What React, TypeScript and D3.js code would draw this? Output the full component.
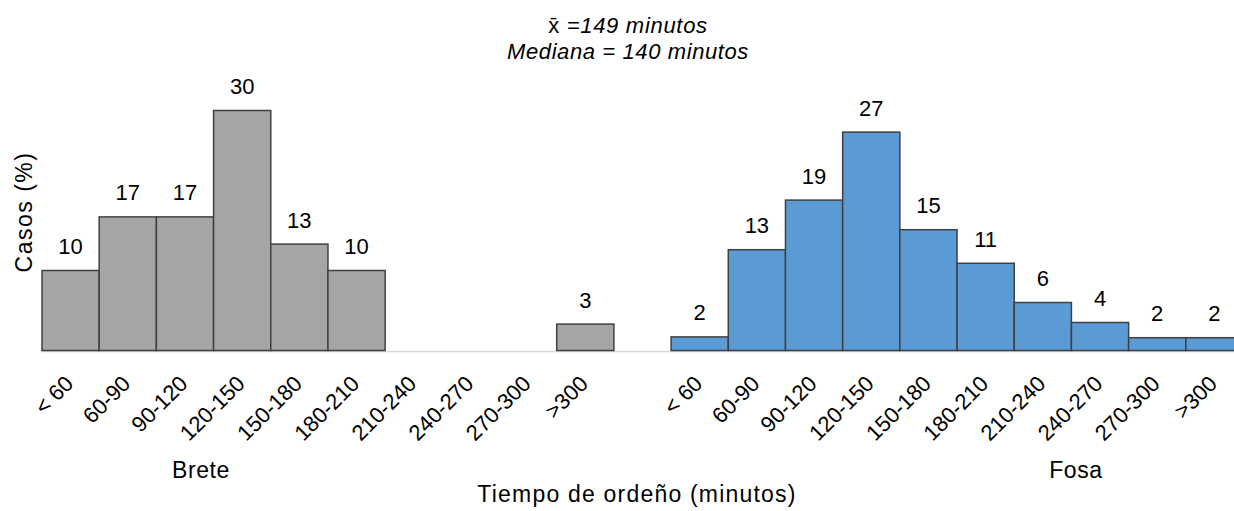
import * as d3 from "d3";

const W = 1234;
const H = 511;

// bins shared by both groups
const bins = ["< 60", "60-90", "90-120", "120-150", "150-180", "180-210", "210-240", "240-270", "270-300", ">300"];
const brete = [10, 16.7, 16.7, 30, 13.3, 10, 0, 0, 0, 3.3];
const fosa = [1.7, 12.6, 18.8, 27.3, 15.1, 10.9, 6.0, 3.5, 1.6, 1.6];
const groups = ["Brete", "Fosa"];
const groupLabelX = [201, 1076];
const titleMean = "=149 minutos";
const titleMedian = "Mediana = 140 minutos";
const yTitle = "Casos (%)";
const xTitle = "Tiempo de ordeño (minutos)";

const font = "'Liberation Sans', Arial, sans-serif";

const slots = [...bins.map((b) => "B|" + b), "gap", ...bins.map((b) => "F|" + b)];
const x = d3.scaleBand().domain(slots).range([42, 1243]).padding(0);
const y = d3.scaleLinear().domain([0, 30]).range([350.5, 110.5]);

const rows = [
  ...bins.map((b, i) => ({ key: "B|" + b, label: b, value: brete[i], fill: "#A5A5A5" })),
  ...bins.map((b, i) => ({ key: "F|" + b, label: b, value: fosa[i], fill: "#5B9BD5" })),
];

export default function App() {
  const bw = x.bandwidth();
  return (
    <svg
      width={W}
      height={H}
      style={{ position: "absolute", left: 0, top: 0, display: "block", background: "#fff" }}
      fontFamily={font}
    >
      {/* title */}
      <text x={628} y={33} textAnchor="middle" fontSize={22} letterSpacing={0.7}>
        <tspan>x̄ </tspan>
        <tspan fontStyle="italic">{titleMean}</tspan>
      </text>
      <text x={628} y={58.5} textAnchor="middle" fontSize={22} fontStyle="italic" letterSpacing={0.6}>
        {titleMedian}
      </text>

      {/* baseline */}
      <line x1={42} x2={1234} y1={y(0) + 1} y2={y(0) + 1} stroke="#D9D9D9" strokeWidth={1.5} />

      {/* bars */}
      {rows
        .filter((r) => r.value > 0)
        .map((r) => (
          <rect
            key={r.key}
            x={x(r.key)}
            y={y(r.value)}
            width={bw}
            height={y(0) - y(r.value)}
            fill={r.fill}
            stroke="#404040"
            strokeWidth={1.5}
          />
        ))}

      {/* value labels */}
      {rows
        .filter((r) => r.value > 0)
        .map((r) => (
          <text
            key={"v" + r.key}
            x={x(r.key)! + bw / 2}
            y={y(r.value) - 16.5}
            textAnchor="middle"
            fontSize={22}
          >
            {Math.round(r.value)}
          </text>
        ))}

      {/* category labels */}
      {rows.map((r) => {
        const cx = x(r.key)! + bw / 2 + 4;
        return (
          <text
            key={"c" + r.key}
            transform={`translate(${cx},385) rotate(-45)`}
            textAnchor="end"
            fontSize={22}
          >
            {r.label}
          </text>
        );
      })}

      {/* group names */}
      {groups.map((g, i) => (
        <text key={g} x={groupLabelX[i]} y={478} textAnchor="middle" fontSize={23} letterSpacing={0.6}>
          {g}
        </text>
      ))}

      {/* axis titles */}
      <text x={637} y={502} textAnchor="middle" fontSize={23} letterSpacing={1.2}>
        {xTitle}
      </text>
      <text transform="translate(32,212) rotate(-90)" textAnchor="middle" fontSize={23} letterSpacing={1.5}>
        {yTitle}
      </text>
    </svg>
  );
}
